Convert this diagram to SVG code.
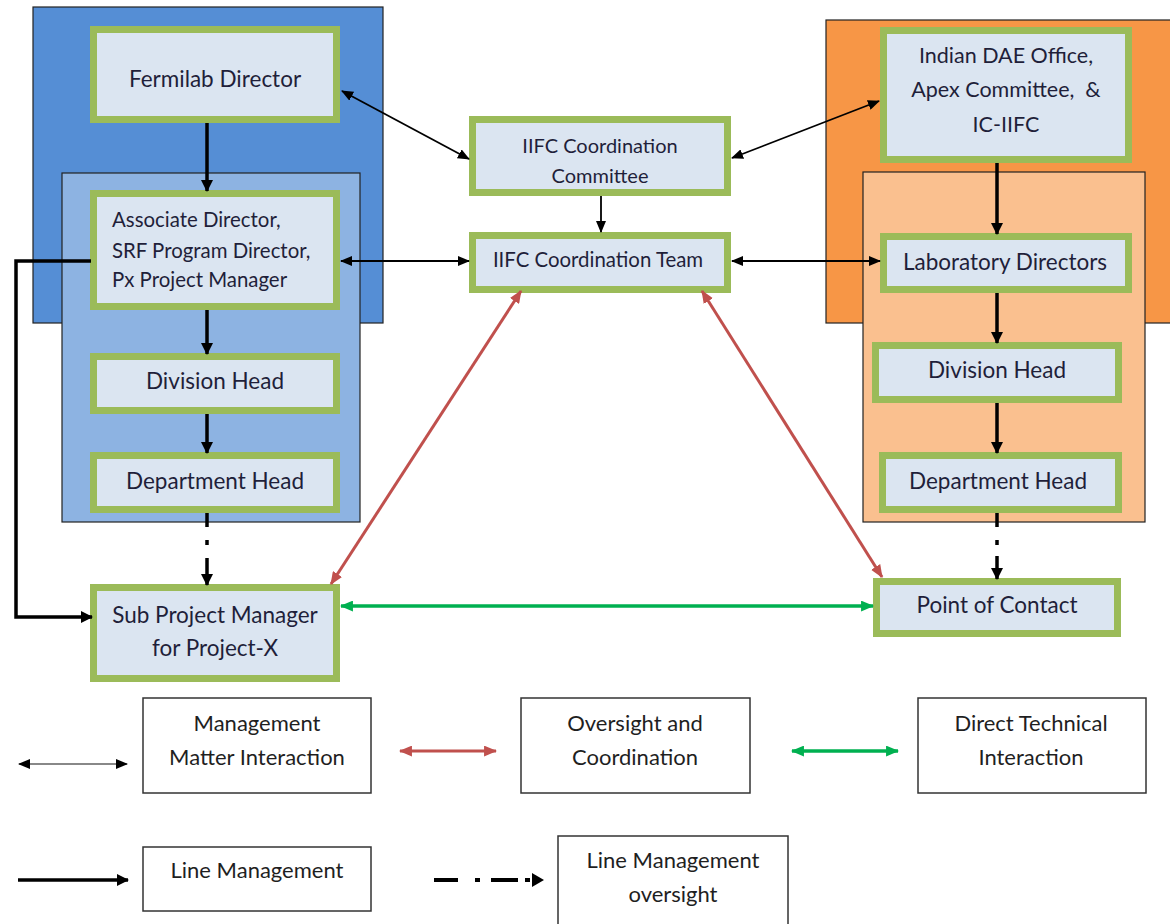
<svg xmlns="http://www.w3.org/2000/svg" width="1170" height="924" viewBox="0 0 1170 924">
<defs>
<style>
.node{fill:#dbe5f1;stroke:#9bbb59;stroke-width:7}
.t{font-family:Lato,"Liberation Sans",sans-serif;font-size:22.5px;fill:#1f1f3a;text-anchor:middle}
.ts{font-size:20.4px}
.tc{font-size:20px}
.td{font-size:21.5px}
.lg{fill:#fff;stroke:#333;stroke-width:1.5}
.lt{font-family:Lato,"Liberation Sans",sans-serif;font-size:22px;fill:#1f1f1f;text-anchor:middle}
.thin{stroke:#000;stroke-width:1.8;fill:none}
.thick{stroke:#000;stroke-width:3.5;fill:none}
.red{stroke:#c0504d;stroke-width:3;fill:none}
.grn{stroke:#00b050;stroke-width:3.5;fill:none}
</style>
<marker id="ah" viewBox="0 0 12 10" refX="11" refY="5" markerWidth="12" markerHeight="10" orient="auto-start-reverse" markerUnits="userSpaceOnUse"><path d="M0,0 L12,5 L0,10 z" fill="#000"/></marker>
<marker id="ahk" viewBox="0 0 12 12" refX="11" refY="6" markerWidth="12" markerHeight="12" orient="auto-start-reverse" markerUnits="userSpaceOnUse"><path d="M0,0 L12,6 L0,12 z" fill="#000"/></marker>
<marker id="ahr" viewBox="0 0 12 10" refX="11" refY="5" markerWidth="13" markerHeight="11" orient="auto-start-reverse" markerUnits="userSpaceOnUse"><path d="M0,0 L12,5 L0,10 z" fill="#c0504d"/></marker>
<marker id="ahg" viewBox="0 0 12 10" refX="11" refY="5" markerWidth="13" markerHeight="11" orient="auto-start-reverse" markerUnits="userSpaceOnUse"><path d="M0,0 L12,5 L0,10 z" fill="#00b050"/></marker>
</defs>
<rect width="1170" height="924" fill="#fff"/>

<g id="containers">
<rect x="33" y="7" width="350" height="316" fill="#558ed5" stroke="#222" stroke-width="1.2"/>
<rect x="62" y="173" width="298" height="349" fill="#8db3e2" stroke="#222" stroke-width="1.2"/>
<rect x="826" y="20" width="350" height="303" fill="#f79646" stroke="#222" stroke-width="1.2"/>
<rect x="863" y="172" width="282" height="350" fill="#fac08f" stroke="#222" stroke-width="1.2"/>
</g>

<g id="n-fermilab"><rect class="node" x="93.5" y="29.5" width="243" height="90"/><text class="t" x="215" y="87">Fermilab Director</text></g>
<g id="n-assoc"><rect class="node" x="93.5" y="193.5" width="243" height="113"/>
<text class="t ts" x="112" y="227" style="text-anchor:start">Associate Director,</text>
<text class="t ts" x="112" y="258" style="text-anchor:start">SRF Program Director,</text>
<text class="t ts" x="112" y="287" style="text-anchor:start">Px Project Manager</text></g>
<g id="n-divl"><rect class="node" x="93.5" y="356.5" width="243" height="54"/><text class="t" x="215" y="389">Division Head</text></g>
<g id="n-depl"><rect class="node" x="93.5" y="455.5" width="243" height="54"/><text class="t" x="215" y="489">Department Head</text></g>
<g id="n-subpm"><rect class="node" x="93.5" y="587.5" width="243" height="91"/><text class="t" x="215" y="623">Sub Project Manager</text><text class="t" x="215" y="656">for Project-X</text></g>

<g id="n-committee"><rect class="node" x="472.5" y="119.5" width="255" height="73"/><text class="t tc" x="600" y="153">IIFC Coordination</text><text class="t tc" x="600" y="183">Committee</text></g>
<g id="n-team"><rect class="node" x="472.5" y="235.5" width="255" height="54"/><text class="t ts" x="598" y="267">IIFC Coordination Team</text></g>

<g id="n-dae"><rect class="node" x="883.5" y="30.5" width="245" height="129"/>
<text class="t td" x="1006" y="63">Indian DAE Office,</text>
<text class="t td" x="1006" y="97">Apex Committee,&#160; &amp;</text>
<text class="t td" x="1006" y="132">IC-IIFC</text></g>
<g id="n-lab"><rect class="node" x="883.5" y="236.5" width="245" height="53"/><text class="t" x="1005" y="270">Laboratory Directors</text></g>
<g id="n-divr"><rect class="node" x="875.5" y="345.5" width="243" height="54"/><text class="t" x="997" y="378">Division Head</text></g>
<g id="n-depr"><rect class="node" x="882.5" y="455.5" width="236" height="54"/><text class="t" x="998" y="489">Department Head</text></g>
<g id="n-poc"><rect class="node" x="876.5" y="581.5" width="241" height="52"/><text class="t" x="997" y="613">Point of Contact</text></g>

<g id="connectors">
<line class="thin" x1="342" y1="91" x2="469" y2="159" marker-start="url(#ah)" marker-end="url(#ah)"/>
<line class="thin" x1="879" y1="101" x2="732" y2="158" marker-start="url(#ah)" marker-end="url(#ah)"/>
<line class="thin" x1="601" y1="196" x2="601" y2="232" marker-end="url(#ah)"/>
<line class="thin" x1="341" y1="261" x2="469" y2="261" marker-start="url(#ah)" marker-end="url(#ah)"/>
<line class="thin" x1="732" y1="261" x2="880" y2="261" marker-start="url(#ah)" marker-end="url(#ah)"/>

<line class="thick" x1="207" y1="123" x2="207" y2="191" marker-end="url(#ahk)"/>
<line class="thick" x1="207" y1="310" x2="207" y2="354" marker-end="url(#ahk)"/>
<line class="thick" x1="207" y1="414" x2="207" y2="453" marker-end="url(#ahk)"/>
<line class="thick" x1="207" y1="513" x2="207" y2="527"/>
<line class="thick" x1="207" y1="540" x2="207" y2="545"/>
<line class="thick" x1="207" y1="558" x2="207" y2="585" marker-end="url(#ahk)"/>
<polyline class="thick" points="91,261 16,261 16,617 92,617" marker-end="url(#ahk)"/>

<line class="thick" x1="997" y1="163" x2="997" y2="234" marker-end="url(#ahk)"/>
<line class="thick" x1="997" y1="293" x2="997" y2="343" marker-end="url(#ahk)"/>
<line class="thick" x1="997" y1="403" x2="997" y2="453" marker-end="url(#ahk)"/>
<line class="thick" x1="997" y1="513" x2="997" y2="527"/>
<line class="thick" x1="997" y1="540" x2="997" y2="545"/>
<line class="thick" x1="997" y1="556" x2="997" y2="579" marker-end="url(#ahk)"/>

<line class="red" x1="521" y1="291" x2="331" y2="584" marker-start="url(#ahr)" marker-end="url(#ahr)"/>
<line class="red" x1="702" y1="291" x2="882" y2="577" marker-start="url(#ahr)" marker-end="url(#ahr)"/>
<line class="grn" x1="341" y1="606" x2="873" y2="606" marker-start="url(#ahg)" marker-end="url(#ahg)"/>
</g>

<g id="legend">
<line x1="19" y1="764" x2="127" y2="764" stroke="#888" stroke-width="2" marker-start="url(#ah)" marker-end="url(#ah)"/>
<line class="red" x1="400" y1="751" x2="496" y2="751" marker-start="url(#ahr)" marker-end="url(#ahr)"/>
<line class="grn" x1="792" y1="751" x2="898" y2="751" marker-start="url(#ahg)" marker-end="url(#ahg)"/>
<line class="thick" x1="18" y1="880" x2="128" y2="880" marker-end="url(#ahk)"/>
<line stroke="#000" stroke-width="4" x1="434" y1="880" x2="458" y2="880"/>
<line stroke="#000" stroke-width="4" x1="475" y1="880" x2="480" y2="880"/>
<line stroke="#000" stroke-width="4" x1="491" y1="880" x2="518" y2="880"/>
<line stroke="#000" stroke-width="4" x1="525" y1="880" x2="530" y2="880"/>
<path d="M532,873 L544,880 L532,887 z" fill="#000"/>

<g id="lg-mgmt"><rect class="lg" x="143" y="698" width="228" height="95"/><text class="lt" x="257" y="731">Management</text><text class="lt" x="257" y="765">Matter Interaction</text></g>
<g id="lg-over"><rect class="lg" x="521" y="698" width="229" height="95"/><text class="lt" x="635" y="731">Oversight and</text><text class="lt" x="635" y="765">Coordination</text></g>
<g id="lg-tech"><rect class="lg" x="918" y="698" width="228" height="95"/><text class="lt" x="1031" y="731">Direct Technical</text><text class="lt" x="1031" y="765">Interaction</text></g>
<g id="lg-line"><rect class="lg" x="143" y="847" width="228" height="64"/><text class="lt" x="257" y="878">Line Management</text></g>
<g id="lg-lineov"><rect class="lg" x="558" y="836" width="230" height="100"/><text class="lt" x="673" y="868">Line Management</text><text class="lt" x="673" y="902">oversight</text></g>
</g>
</svg>
